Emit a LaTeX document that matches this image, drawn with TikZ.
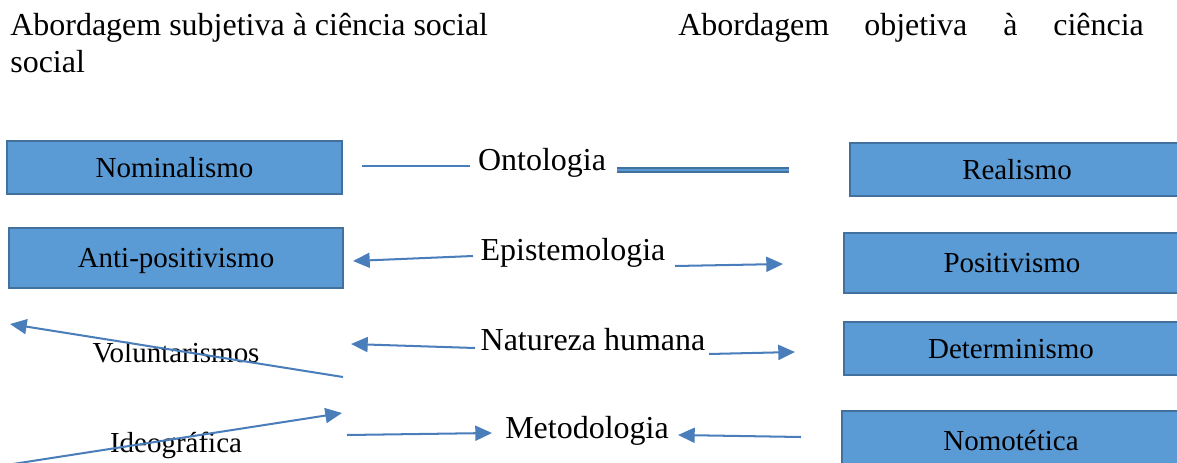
\documentclass[tikz,border=0pt]{standalone}
\usepackage{fontspec}
\setmainfont{Liberation Serif}
\usetikzlibrary{calc,arrows.meta}

\definecolor{boxfill}{HTML}{5B9BD5}
\definecolor{boxline}{HTML}{41719C}
\definecolor{linkcol}{HTML}{4A7EBB}

\begin{document}
\begin{tikzpicture}[
  x=0.02cm, y=-0.02cm,
  >={Triangle[length=9.5pt,width=8.5pt]},
  paradigm/.style={draw=boxline, line width=1.1pt, fill=boxfill, inner sep=0pt,
    font=\fontsize{16.5}{20}\selectfont, text height=11pt, text depth=0pt},
  dimlabel/.style={font=\fontsize{18.2}{22}\selectfont, inner sep=0pt, anchor=base},
  sidelabel/.style={font=\fontsize{16.5}{20}\selectfont, inner sep=0pt, anchor=base},
  headword/.style={font=\fontsize{18.2}{22}\selectfont, inner sep=0pt, anchor=base west},
  link/.style={draw=linkcol, line width=1.15pt},
]

% --- Rahmen (Seitenausschnitt) ---
\useasboundingbox (0,0) rectangle (1177,463);
\clip (0,0) rectangle (1177,463);

% --- Kopfzeile ---
\node[headword] (hsubj) at (10,35) {Abordagem subjetiva à ciência social};
\node[headword] (hsocial) at (10,72) {social};
\node[headword] (hobj1) at (678,35) {Abordagem};
\node[headword] (hobj2) at (864,35) {objetiva};
\node[headword] (hobj3) at (1003,35) {à};
\node[headword] (hobj4) at (1053,35) {ciência};

% --- Kaesten links (subjektiv) ---
\node[paradigm, minimum width=6.70cm, minimum height=1.06cm] (nominal) at (174.5,167.5) {Nominalismo};
\node[paradigm, minimum width=6.68cm, minimum height=1.20cm] (antipos) at (176,258) {Anti-positivismo};

% --- Kaesten rechts (objektiv, am Rand abgeschnitten) ---
\node[paradigm, minimum width=6.68cm, minimum height=1.06cm] (realism) at (1017,169.5) {Realismo};
\node[paradigm, minimum width=6.72cm, minimum height=1.20cm] (positiv) at (1012,263) {Positivismo};
\node[paradigm, minimum width=6.68cm, minimum height=1.06cm] (determ) at (1011,348.5) {Determinismo};
\node[paradigm, minimum width=6.76cm, minimum height=1.18cm] (nomot) at (1011,440.5) {Nomotética};

% --- Dimensionen in der Mitte ---
\node[dimlabel] (onto) at (542,170) {Ontologia};
\node[dimlabel] (episte) at (573,260) {Epistemologia};
\node[dimlabel] (natur) at (593,350) {Natureza humana};
\node[dimlabel] (metod) at (587,438) {Metodologia};

% --- freie Beschriftungen links ---
\node[sidelabel] (volunt) at (176,362) {Voluntarismos};
\node[sidelabel] (ideog) at (176,452) {Ideográfica};

% --- Endpunkte der Verbinder ---
\coordinate (ontoL1) at (362,166);  \coordinate (ontoL2) at (470,166);
\coordinate (ontoR1) at (617,170);  \coordinate (ontoR2) at (789,170);
\coordinate (epiL1) at (473,256);   \coordinate (epiL2) at (353,261);
\coordinate (epiR1) at (675,266);   \coordinate (epiR2) at (783,264);
\coordinate (natL1) at (475,348);   \coordinate (natL2) at (351,344);
\coordinate (natR1) at (709,354);   \coordinate (natR2) at (795,352);
\coordinate (metL1) at (347,435);   \coordinate (metL2) at (492,433);
\coordinate (metR1) at (801,437);   \coordinate (metR2) at (678,435);
\coordinate (volA) at (343,377);    \coordinate (volB) at (10,324);
\coordinate (ideA) at (0,466);      \coordinate (ideB) at (342,413);

% --- Ontologia: einfache und doppelte Linie ---
\draw[link] (ontoL1) -- (ontoL2);
\draw[draw=boxline, line width=1.1pt, double=boxfill, double distance=1.4pt] (ontoR1) -- (ontoR2);

% --- Pfeile ---
\draw[link, ->] (epiL1) -- (epiL2);
\draw[link, ->] (epiR1) -- (epiR2);
\draw[link, ->] (natL1) -- (natL2);
\draw[link, ->] (natR1) -- (natR2);
\draw[link, ->] (metL1) -- (metL2);
\draw[link, ->] (metR1) -- (metR2);
\draw[link, ->] (volA) -- (volB);
\draw[link, ->] (ideA) -- (ideB);

\end{tikzpicture}
\end{document}
